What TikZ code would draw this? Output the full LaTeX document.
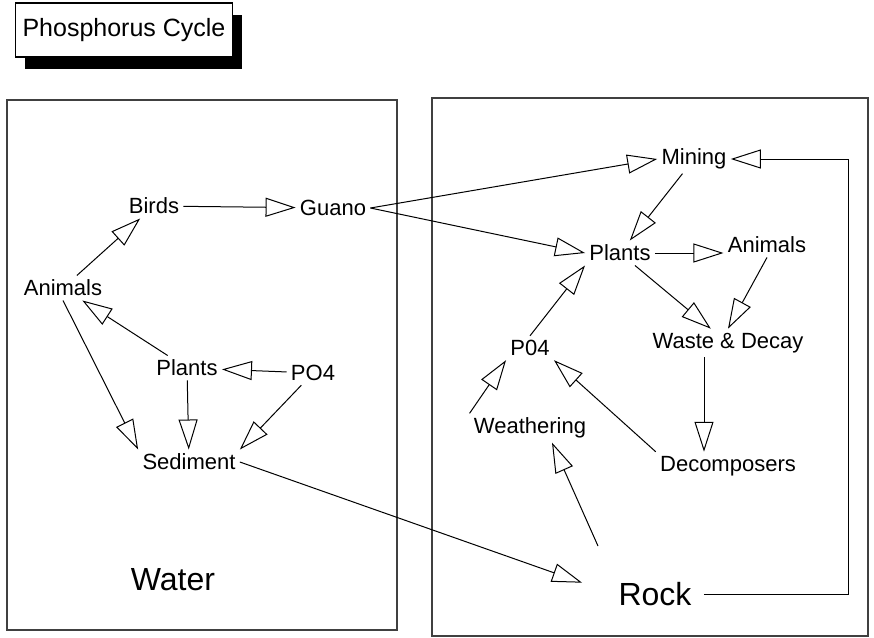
\documentclass[tikz,border=0pt]{standalone}
\usepackage{fontspec}
\setmainfont{Liberation Sans}
\usetikzlibrary{arrows.meta,shadows}

\tikzset{
  item/.style={font=\fontsize{11}{13}\selectfont, inner sep=2pt},
  big/.style={font=\fontsize{16}{18}\selectfont, inner sep=2pt},
  flow/.style={-{Triangle[open,length=15pt,width=9.5pt]}, line width=0.5pt},
  frame/.style={draw=black!75, line width=0.8pt},
}

\begin{document}
\begin{tikzpicture}[x=0.5pt,y=-0.5pt]
        \useasboundingbox (0,0) rectangle (874,638);

        % title
        \node[draw, fill=white, line width=0.6pt, minimum width=108.5pt, minimum height=27pt,
              font=\fontsize{12.5}{14}\selectfont,
              drop shadow={shadow xshift=4.5pt, shadow yshift=-6pt, fill=black, opacity=1}]
            (title) at (124,30) {Phosphorus Cycle};

        \draw[frame] (7,100) rectangle (397,630);
        \draw[frame] (432,98) rectangle (868,636);

        % water side
        \node[item] (birds) at (154,206) {Birds};
        \node[item] (guano) at (333,208) {Guano};
        \node[item] (lanimals) at (63,288) {Animals};
        \node[item] (lplants) at (187,368) {Plants};
        \node[item] (lpo) at (313,373) {PO4};
        \node[item] (sediment) at (189,462) {Sediment};
        \node[big] (water) at (173,580) {Water};

        % rock side
        \node[item] (mining) at (694,159) {Mining};
        \node[item] (rplants) at (620,253) {Plants};
        \node[item] (ranimals) at (767,245) {Animals};
        \node[item] (rpo) at (530,348) {P04};
        \node[item] (waste) at (728,343) {Waste \& Decay};
        \node[item] (weather) at (530,428) {Weathering};
        \node[item] (decomp) at (728,466) {Decomposers};
        \node[big] (rock) at (655,594) {Rock};
        \coordinate (corner) at (848,594);

        \draw[flow] (lanimals) -- (birds);
        \draw[flow] (birds) -- (guano);
        \draw[flow] (lplants) -- (lanimals);
        \draw[flow] (lanimals.south) -- (sediment.north west);
        \draw[flow] (lplants) -- (sediment);
        \draw[flow] (lpo) -- (lplants);
        \draw[flow] (lpo) -- (sediment.north east);
        \draw[flow, shorten >=17pt] (sediment.east) -- (rock.west);

        \draw[flow] (guano.east) -- (mining.west);
        \draw[flow] (guano.east) -- (rplants.west);
        \draw[flow] (mining) -- (rplants);
        \draw[flow] (rplants.east) -- (ranimals.west |- rplants.east);
        \draw[flow] (rplants) -- (waste);
        \draw[flow] (ranimals.south) -- (waste.north);
        \draw[flow] (rpo.north) -- (rplants.south west);
        \draw[flow] (weather.north west) -- (rpo.south west);
        \draw[flow] ([xshift=-12pt]waste.south) -- ([xshift=-12pt]decomp.north);
        \draw[flow] (decomp.north west) -- (rpo.south east);
        \draw[flow] ([shift={(-57,-48)}]rock.center) -- ([xshift=11pt]weather.south);
        \draw[flow, shorten <=4pt] (rock.east) -- (corner) |- (mining.east);
    \end{tikzpicture}
\end{document}
